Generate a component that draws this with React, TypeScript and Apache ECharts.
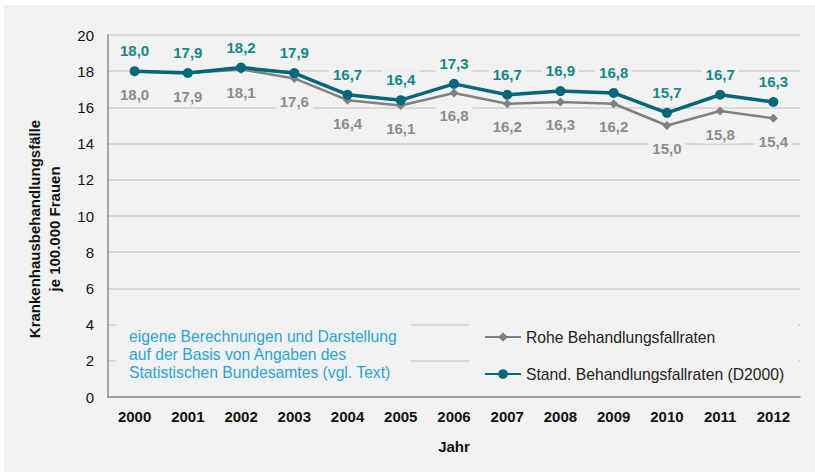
import React, { useEffect, useRef } from "react";
import * as echarts from "echarts";

const years = ["2000", "2001", "2002", "2003", "2004", "2005", "2006", "2007", "2008", "2009", "2010", "2011", "2012"];
const roheRaten = [18.0, 17.9, 18.1, 17.6, 16.4, 16.1, 16.8, 16.2, 16.3, 16.2, 15.0, 15.8, 15.4];
const standRaten = [18.0, 17.9, 18.2, 17.9, 16.7, 16.4, 17.3, 16.7, 16.9, 16.8, 15.7, 16.7, 16.3];
const seriesNames = ["Rohe Behandlungsfallraten", "Stand. Behandlungsfallraten (D2000)"];
const yAxisTitle = "Krankenhausbehandlungsfälle\nje 100.000 Frauen";
const xAxisTitle = "Jahr";
const noteText = "eigene Berechnungen und Darstellung\nauf der Basis von Angaben des\nStatistischen Bundesamtes (vgl. Text)";

const FONT = "'Liberation Sans', Arial, sans-serif";
const fmt = (v: number) => v.toFixed(1).replace(".", ",");

export default function App() {
  const ref = useRef<HTMLDivElement>(null);
  useEffect(() => {
    if (!ref.current) return;
    const chart = echarts.init(ref.current, null, { renderer: "svg" });
    chart.setOption({
      animation: false,
      backgroundColor: "#f2f2f2",
      textStyle: { fontFamily: FONT },
      grid: { left: 104, right: 15, top: 30, bottom: 75 },
      xAxis: {
        type: "category",
        data: years,
        boundaryGap: true,
        name: xAxisTitle,
        nameLocation: "middle",
        nameGap: 42,
        nameTextStyle: { fontFamily: FONT, fontSize: 15, fontWeight: "bold", color: "#111" },
        axisLine: { show: true, lineStyle: { color: "#8a8a8a", width: 1.5 } },
        axisTick: { show: false },
        axisLabel: { fontFamily: FONT, fontSize: 15, fontWeight: "bold", color: "#111", margin: 12 },
      },
      yAxis: {
        type: "value",
        min: 0,
        max: 20,
        interval: 2,
        axisLine: { show: true, lineStyle: { color: "#8a8a8a", width: 1.5 } },
        axisTick: { show: false },
        axisLabel: { fontFamily: FONT, fontSize: 15, color: "#111", margin: 14 },
        splitLine: { show: true, lineStyle: { color: "#d9d9d9", width: 2 } },
      },
      legend: {
        orient: "vertical",
        left: 465,
        top: 312,
        padding: [12, 14, 12, 15],
        backgroundColor: "#f2f2f2",
        itemWidth: 36,
        itemHeight: 12,
        itemGap: 21,
        textStyle: { fontFamily: FONT, fontSize: 15.7, color: "#222" },
        data: seriesNames,
      },
      graphic: [
        {
          type: "text",
          x: 40,
          y: 224,
          rotation: Math.PI / 2,
          style: {
            text: yAxisTitle,
            fontFamily: FONT,
            fontSize: 15,
            fontWeight: "bold",
            fill: "#111",
            align: "center",
            verticalAlign: "middle",
            lineHeight: 20,
          },
        },
        {
          type: "rect",
          shape: { x: 112, y: 313, width: 295, height: 66 },
          style: { fill: "#f2f2f2" },
          z: 5,
        },
        {
          type: "text",
          x: 125,
          y: 322,
          z: 6,
          style: {
            text: noteText,
            fontFamily: FONT,
            fontSize: 15.7,
            fill: "#2aa4d5",
            lineHeight: 18,
            verticalAlign: "top",
          },
        },
      ],
      series: [
        {
          name: seriesNames[0],
          type: "line",
          data: roheRaten,
          symbol: "diamond",
          symbolSize: 9,
          itemStyle: { color: "#808080" },
          lineStyle: { color: "#808080", width: 2.5 },
          z: 3,
          label: {
            show: true,
            position: "bottom",
            distance: 9,
            formatter: (p: any) => fmt(p.value),
            fontFamily: FONT,
            fontSize: 15,
            fontWeight: "bold",
            color: "#8c8c8c",
            backgroundColor: "#f2f2f2",
            padding: [2, 4],
          },
        },
        {
          name: seriesNames[1],
          type: "line",
          data: standRaten,
          symbol: "circle",
          symbolSize: 10,
          itemStyle: { color: "#00677c" },
          lineStyle: { color: "#00677c", width: 3.5 },
          z: 4,
          label: {
            show: true,
            position: "top",
            distance: 6,
            formatter: (p: any) => fmt(p.value),
            fontFamily: FONT,
            fontSize: 15,
            fontWeight: "bold",
            color: "#14878a",
            backgroundColor: "#f2f2f2",
            padding: [2, 4],
          },
        },
      ],
    });
    return () => chart.dispose();
  }, []);
  return (
    <div style={{ position: "fixed", left: 0, top: 0, width: 815, height: 472, background: "#fff" }}>
      <div ref={ref} style={{ position: "absolute", left: 4, top: 5, width: 811, height: 467 }} />
    </div>
  );
}
